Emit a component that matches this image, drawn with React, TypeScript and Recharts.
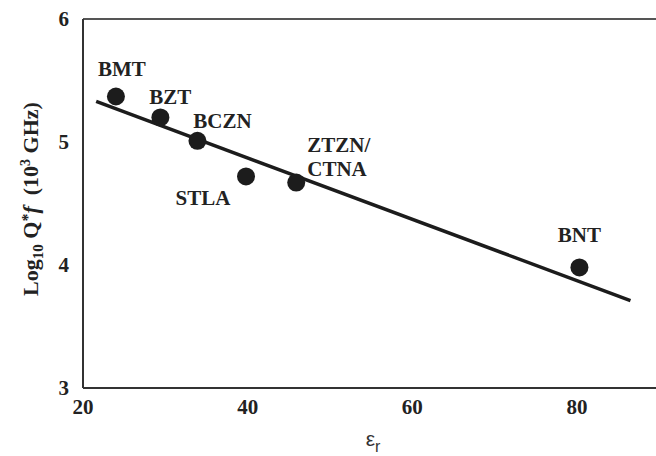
import React from 'react';
import { ComposedChart, Scatter, Line, XAxis, YAxis, ReferenceLine } from 'recharts';

// Data
const materials = ['BMT', 'BZT', 'BCZN', 'STLA', 'ZTZN/CTNA', 'BNT'];
const permittivity = [24.0, 29.4, 33.9, 39.8, 45.9, 80.3];
const logQf = [5.37, 5.2, 5.01, 4.72, 4.67, 3.98];

const fitPermittivity = [21.6, 86.5];
const fitLogQf = [5.33, 3.71];

const xTicks = [20, 40, 60, 80];
const yTicks = [3, 4, 5, 6];

const points = materials.map((name, i) => ({ name, x: permittivity[i], y: logQf[i] }));
const fit = fitPermittivity.map((x, i) => ({ x, y: fitLogQf[i] }));

// label placement (styling, relative to each point)
const labelLayout: Record<string, { dx: number; dys: number[]; lines: string[]; anchor: string }> = {
  BMT: { dx: 6, dys: [-27], lines: ['BMT'], anchor: 'middle' },
  BZT: { dx: 10, dys: [-20], lines: ['BZT'], anchor: 'middle' },
  BCZN: { dx: 25, dys: [-20], lines: ['BCZN'], anchor: 'middle' },
  STLA: { dx: -43, dys: [22], lines: ['STLA'], anchor: 'middle' },
  'ZTZN/CTNA': { dx: 11, dys: [-38, -14], lines: ['ZTZN/', 'CTNA'], anchor: 'start' },
  BNT: { dx: 0, dys: [-32], lines: ['BNT'], anchor: 'middle' },
};

const serif = '"Liberation Serif", "Times New Roman", Times, serif';
const ink = '#1c1c1c';

const PointShape = (props: any) => {
  const { cx, cy, payload } = props;
  const lay = labelLayout[payload.name];
  return (
    <g>
      <circle cx={cx} cy={cy} r={9} fill={ink} />
      {lay.lines.map((t, i) => (
        <text
          key={i}
          x={cx + lay.dx}
          y={cy + lay.dys[i]}
          textAnchor={lay.anchor}
          dominantBaseline="central"
          fontFamily={serif}
          fontWeight="bold"
          fontSize={21}
          fill="#222"
        >
          {t}
        </text>
      ))}
    </g>
  );
};

const YLabel = () => (
  <text
    transform="translate(38,199) rotate(-90)"
    textAnchor="middle"
    fontFamily={serif}
    fontWeight="bold"
    fontSize={22}
    fill="#222"
    style={{ whiteSpace: 'pre' }}
  >
    <tspan>Log</tspan>
    <tspan fontSize={15} dy={5}>10</tspan>
    <tspan dy={-5}>{' Q'}</tspan>
    <tspan fontSize={16} dy={-5}>*</tspan>
    <tspan fontStyle="italic" dy={5}>{'f'}</tspan>
    <tspan>{'  (10'}</tspan>
    <tspan fontSize={14} dy={-8}>3</tspan>
    <tspan dy={8}>{' GHz)'}</tspan>
  </text>
);

const XLabel = () => (
  <text
    x={373}
    y={446}
    textAnchor="middle"
    fontFamily='"Liberation Sans", Arial, sans-serif'
    fontSize={21}
    fill="#333"
  >
    <tspan>ε</tspan>
    <tspan fontSize={16} dy={6}>r</tspan>
  </text>
);

const tickStyle = { fontFamily: serif, fontWeight: 'bold' as const, fontSize: 21, fill: '#222' };

export default function App() {
  return (
    <div style={{ position: 'absolute', left: 0, top: 0, background: '#fff' }}>
      <ComposedChart width={656} height={456} margin={{ top: 19, right: 0, bottom: 0, left: 0 }}>
        <XAxis
          type="number"
          dataKey="x"
          domain={[20, 89.6]}
          ticks={xTicks}
          allowDataOverflow
          height={68}
          tickLine={false}
          tickSize={0}
          tickMargin={11}
          axisLine={{ stroke: '#333', strokeWidth: 2 }}
          tick={tickStyle}
          label={{ content: () => <XLabel /> }}
        />
        <YAxis
          type="number"
          dataKey="y"
          domain={[3, 6]}
          ticks={yTicks}
          allowDataOverflow
          width={83}
          tickLine={false}
          tickSize={0}
          tickMargin={14}
          axisLine={{ stroke: '#333', strokeWidth: 2 }}
          tick={tickStyle}
          label={{ content: () => <YLabel /> }}
        />
        <ReferenceLine y={6} stroke="#555" strokeWidth={2} />
        <Line
          data={fit}
          dataKey="y"
          type="linear"
          stroke={ink}
          strokeWidth={3.5}
          dot={false}
          activeDot={false}
          isAnimationActive={false}
        />
        <Scatter data={points} dataKey="y" shape={PointShape} isAnimationActive={false} />
      </ComposedChart>
    </div>
  );
}
